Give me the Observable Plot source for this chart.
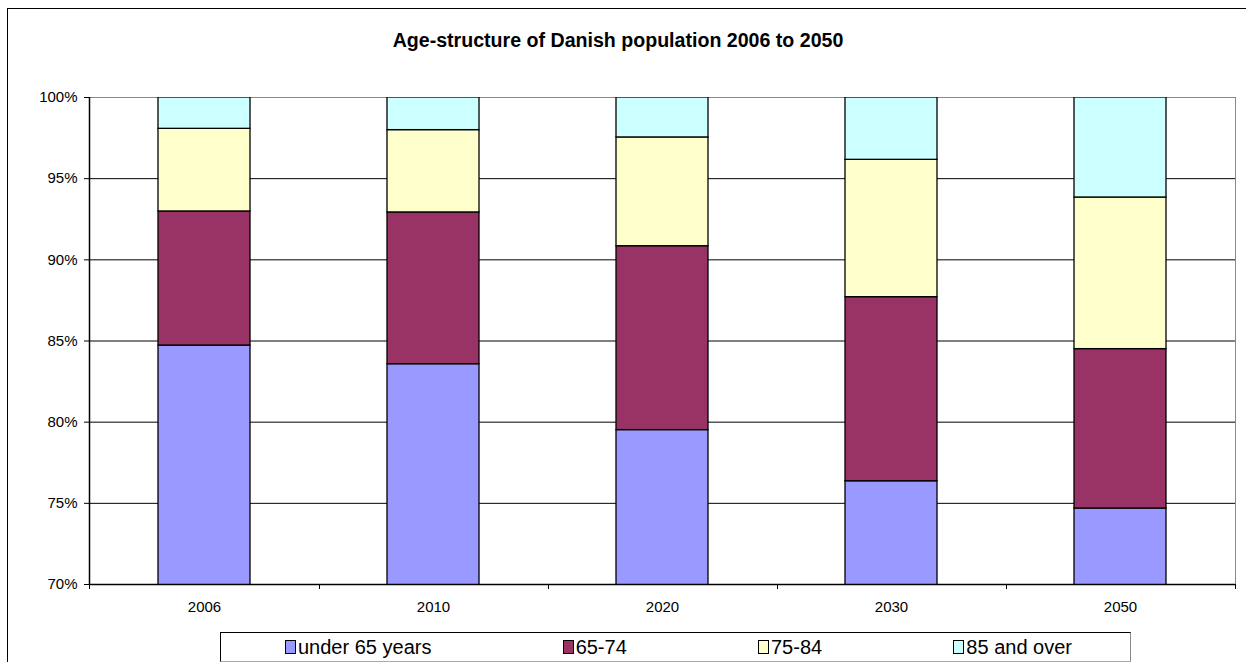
<!DOCTYPE html>
<html><head><meta charset="utf-8">
<script src="https://cdn.jsdelivr.net/npm/d3@7"></script>
<script src="https://cdn.jsdelivr.net/npm/@observablehq/plot@0.6"></script>
<style>
html,body{margin:0;padding:0;background:#fff;}
body{width:1246px;height:662px;overflow:hidden;position:relative;font-family:"Liberation Sans",Arial,sans-serif;color:#000;}
#border{position:absolute;left:7px;top:8px;width:1270px;height:700px;border:1px solid #000;box-sizing:border-box;}
#title{position:absolute;left:0;top:30px;width:1236px;text-align:center;font-weight:bold;font-size:19.6px;line-height:20px;}
#chart{position:absolute;left:0;top:69px;}
#legend{position:absolute;left:220px;top:632px;width:911px;height:30px;box-sizing:border-box;border:1px solid #000;border-right-color:#888;border-bottom-color:#aaa;font-size:20px;display:flex;justify-content:space-between;align-items:center;padding:0 58px 0 64px;}
.item{display:flex;align-items:center;white-space:nowrap;}
.sw{width:9px;height:12px;border:1px solid #000;margin-right:2px;}
</style></head>
<body>
<div id="border"></div>
<div id="title"></div>
<div id="chart"></div>
<div id="legend"></div>
<script>
const titleText = "Age-structure of Danish population 2006 to 2050";
const years = ["2006", "2010", "2020", "2030", "2050"];
const groups = ["under 65 years", "65-74", "75-84", "85 and over"];
const colors = ["#9999ff", "#993366", "#ffffcc", "#ccffff"];
const under65 = [84.72, 83.57, 79.51, 76.36, 74.68];
const age65to74 = [8.26, 9.35, 11.33, 11.34, 9.82];
const age75to84 = [5.09, 5.07, 6.70, 8.46, 9.34];
const age85plus = [1.93, 2.01, 2.46, 3.84, 6.16];
const yTicks = [70, 75, 80, 85, 90, 95, 100];

const series = [under65, age65to74, age75to84, age85plus];
const rows = [];
groups.forEach((g, gi) => years.forEach((yr, yi) => rows.push({year: yr, group: g, value: series[gi][yi]})));

document.getElementById("title").textContent = titleText;

function axisDecor(index, scales, values, dims) {
  const x = scales.x;
  const bw = typeof x.bandwidth === "function" ? x.bandwidth() : x.bandwidth;
  const centers = years.map(y => x(y) + bw / 2);
  const left = dims.marginLeft, right = dims.width - dims.marginRight;
  const bottom = dims.height - dims.marginBottom, top = dims.marginTop;
  const bounds = [left];
  for (let i = 1; i < centers.length; i++) bounds.push((centers[i - 1] + centers[i]) / 2);
  bounds.push(right);
  const g = d3.create("svg:g");
  g.selectAll("line.t").data(bounds).join("line")
    .attr("x1", d => Math.round(d) + 0.5).attr("x2", d => Math.round(d) + 0.5)
    .attr("y1", bottom).attr("y2", bottom + 5)
    .attr("stroke", "#000");
  g.append("line").attr("x1", left + 0.5).attr("x2", left + 0.5)
    .attr("y1", top).attr("y2", bottom + 0.5).attr("stroke", "#000").attr("stroke-width", 1.5);
  return g.node();
}

const chart = Plot.plot({
  width: 1246,
  height: 551,
  marginLeft: 89,
  marginRight: 11,
  marginTop: 28,
  marginBottom: 36,
  style: {fontFamily: "'Liberation Sans', Arial, sans-serif", fontSize: "15px", color: "#000", background: "transparent"},
  x: {domain: years, paddingInner: 0.6, paddingOuter: 0.3, label: null},
  y: {domain: [70, 100], label: null},
  color: {domain: groups, range: colors},
  marks: [
    Plot.ruleY(yTicks.filter(t => t > 70 && t < 100), {stroke: "#000", strokeWidth: 1}),
    Plot.frame({stroke: "#888", strokeWidth: 1}),
    Plot.barY(rows, Plot.stackY({x: "year", y: "value", fill: "group", stroke: "#000", strokeWidth: 1.3, order: groups, clip: "frame"})),
    Plot.ruleY([70], {stroke: "#000", strokeWidth: 1.5}),
    Plot.axisY({ticks: yTicks, tickFormat: d => d + "%", tickSize: 5, tickPadding: 7, fontSize: 15, stroke: "#000", label: null}),
    Plot.axisX({tickSize: 0, tickPadding: 17, fontSize: 15, label: null}),
    axisDecor
  ]
});
document.getElementById("chart").appendChild(chart);

const legend = document.getElementById("legend");
groups.forEach((g, i) => {
  const item = document.createElement("div");
  item.className = "item";
  const sw = document.createElement("span");
  sw.className = "sw";
  sw.style.background = colors[i];
  const lab = document.createElement("span");
  lab.textContent = g;
  item.appendChild(sw);
  item.appendChild(lab);
  legend.appendChild(item);
});
</script>
</body></html>
